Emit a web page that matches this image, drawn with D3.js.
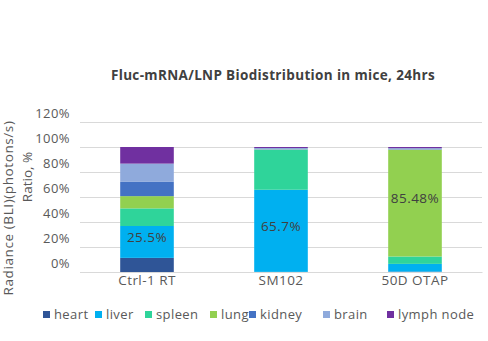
<!DOCTYPE html>
<html>
<head>
<meta charset="utf-8">
<script src="https://cdn.jsdelivr.net/npm/d3@7/dist/d3.min.js"></script>
<style>
  html, body { margin: 0; padding: 0; background: #fff; }
  svg { display: block; font-family: "Open Sans", sans-serif; }
</style>
</head>
<body>
<svg id="chart" width="488" height="341"></svg>
<script>
const categories = ["Ctrl-1 RT", "SM102", "50D OTAP"];
const organs = ["heart", "liver", "spleen", "lung", "kidney", "brain", "lymph node"];
const heart     = [11.3, 0.1, 0.3];
const liver     = [25.5, 65.7, 6.2];
const spleen    = [14.1, 32.0, 5.9];
const lung      = [9.8, 0.2, 85.48];
const kidney    = [11.4, 0.2, 0.3];
const brain     = [14.6, 1.0, 0.9];
const lymphNode = [13.3, 0.8, 0.92];
const yTicks = [0, 20, 40, 60, 80, 100, 120];
const dataLabels = [
  { category: "Ctrl-1 RT", organ: "liver", text: "25.5%" },
  { category: "SM102", organ: "liver", text: "65.7%" },
  { category: "50D OTAP", organ: "lung", text: "85.48%" }
];
const colors = ["#2F5597", "#00B0F0", "#2FD49A", "#92D050", "#4472C4", "#8FAADC", "#7030A0"];

const series = [heart, liver, spleen, lung, kidney, brain, lymphNode];
const rows = categories.map((c, i) => {
  const r = { category: c };
  organs.forEach((o, k) => r[o] = series[k][i]);
  return r;
});

const svg = d3.select("#chart");
const margin = { left: 80, right: 6, top: 122, bottom: 69 };
const W = 488, H = 341;

const x = d3.scaleBand().domain(categories).range([margin.left, W - margin.right]).paddingInner(0.6).paddingOuter(0.3);
const y = d3.scaleLinear().domain([0, 120]).range([H - margin.bottom, margin.top]);

const textColor = "#595959";
const ls = "0.45px";

// gridlines
const grid = svg.append("g")
  .attr("transform", `translate(${margin.left},0)`)
  .call(d3.axisLeft(y).tickValues(yTicks).tickSize(-(W - margin.right - margin.left)).tickFormat(""));
grid.select(".domain").remove();
grid.selectAll("line").attr("stroke", "#d9d9d9").attr("stroke-width", 1);

// y tick labels
const yAx = svg.append("g")
  .attr("transform", `translate(70,0)`)
  .call(d3.axisLeft(y).tickValues(yTicks).tickSize(0).tickPadding(0).tickFormat(d => d + "%"));
yAx.select(".domain").remove();
yAx.selectAll("text").attr("fill", textColor).attr("font-size", 13).attr("letter-spacing", ls)
  .attr("font-family", "'Open Sans', sans-serif").attr("dy", "-0.35em");

// stacked bars
const stack = d3.stack().keys(organs);
const stacked = stack(rows);
svg.append("g").selectAll("g")
  .data(stacked).join("g")
  .attr("fill", (d, i) => colors[i])
  .selectAll("rect")
  .data(d => d).join("rect")
  .attr("x", d => x(d.data.category))
  .attr("width", x.bandwidth())
  .attr("y", d => y(d[1]))
  .attr("height", d => Math.max(0, y(d[0]) - y(d[1])));

// data labels
dataLabels.forEach(l => {
  const s = stacked[organs.indexOf(l.organ)];
  const d = s.find(v => v.data.category === l.category);
  svg.append("text")
    .attr("x", x(l.category) + x.bandwidth() / 2)
    .attr("y", (y(d[0]) + y(d[1])) / 2 - 5)
    .attr("dy", "0.35em")
    .attr("text-anchor", "middle")
    .attr("font-size", 13.5)
    .attr("letter-spacing", ls)
    .attr("fill", "#404040")
    .text(l.text);
});

// x axis
const xAx = svg.append("g")
  .attr("transform", `translate(0,${H - margin.bottom})`)
  .call(d3.axisBottom(x).tickSize(0).tickPadding(3));
xAx.select(".domain").attr("stroke", "#d9d9d9");
xAx.selectAll("text").attr("fill", textColor).attr("font-size", 13.5).attr("letter-spacing", ls)
  .attr("font-family", "'Open Sans', sans-serif");

// title
svg.append("text")
  .attr("x", 273).attr("y", 80)
  .attr("text-anchor", "middle")
  .attr("font-size", 13.5)
  .attr("font-weight", "bold")
  .attr("letter-spacing", "0.35px")
  .attr("fill", "#404040")
  .text("Fluc-mRNA/LNP Biodistribution in mice, 24hrs");

// y axis title
svg.append("text")
  .attr("transform", "translate(13,208) rotate(-90)")
  .attr("text-anchor", "middle")
  .attr("font-size", 13.5)
  .attr("letter-spacing", "0.6px")
  .attr("fill", textColor)
  .text("Radiance (BLI)(photons/s)");
svg.append("text")
  .attr("transform", "translate(32,177) rotate(-90)")
  .attr("text-anchor", "middle")
  .attr("font-size", 13.5)
  .attr("fill", textColor)
  .text("Ratio, %");

// legend
const legendX = [54, 106, 156, 221, 260, 334, 398];
const leg = svg.append("g");
organs.forEach((o, i) => {
  leg.append("rect").attr("x", legendX[i] - 11).attr("y", 311).attr("width", 7).attr("height", 7).attr("fill", colors[i]);
  leg.append("text").attr("x", legendX[i]).attr("y", 314).attr("dy", "0.35em")
    .attr("font-size", 13).attr("letter-spacing", "0.4px").attr("fill", textColor).text(o);
});
</script>
</body>
</html>
